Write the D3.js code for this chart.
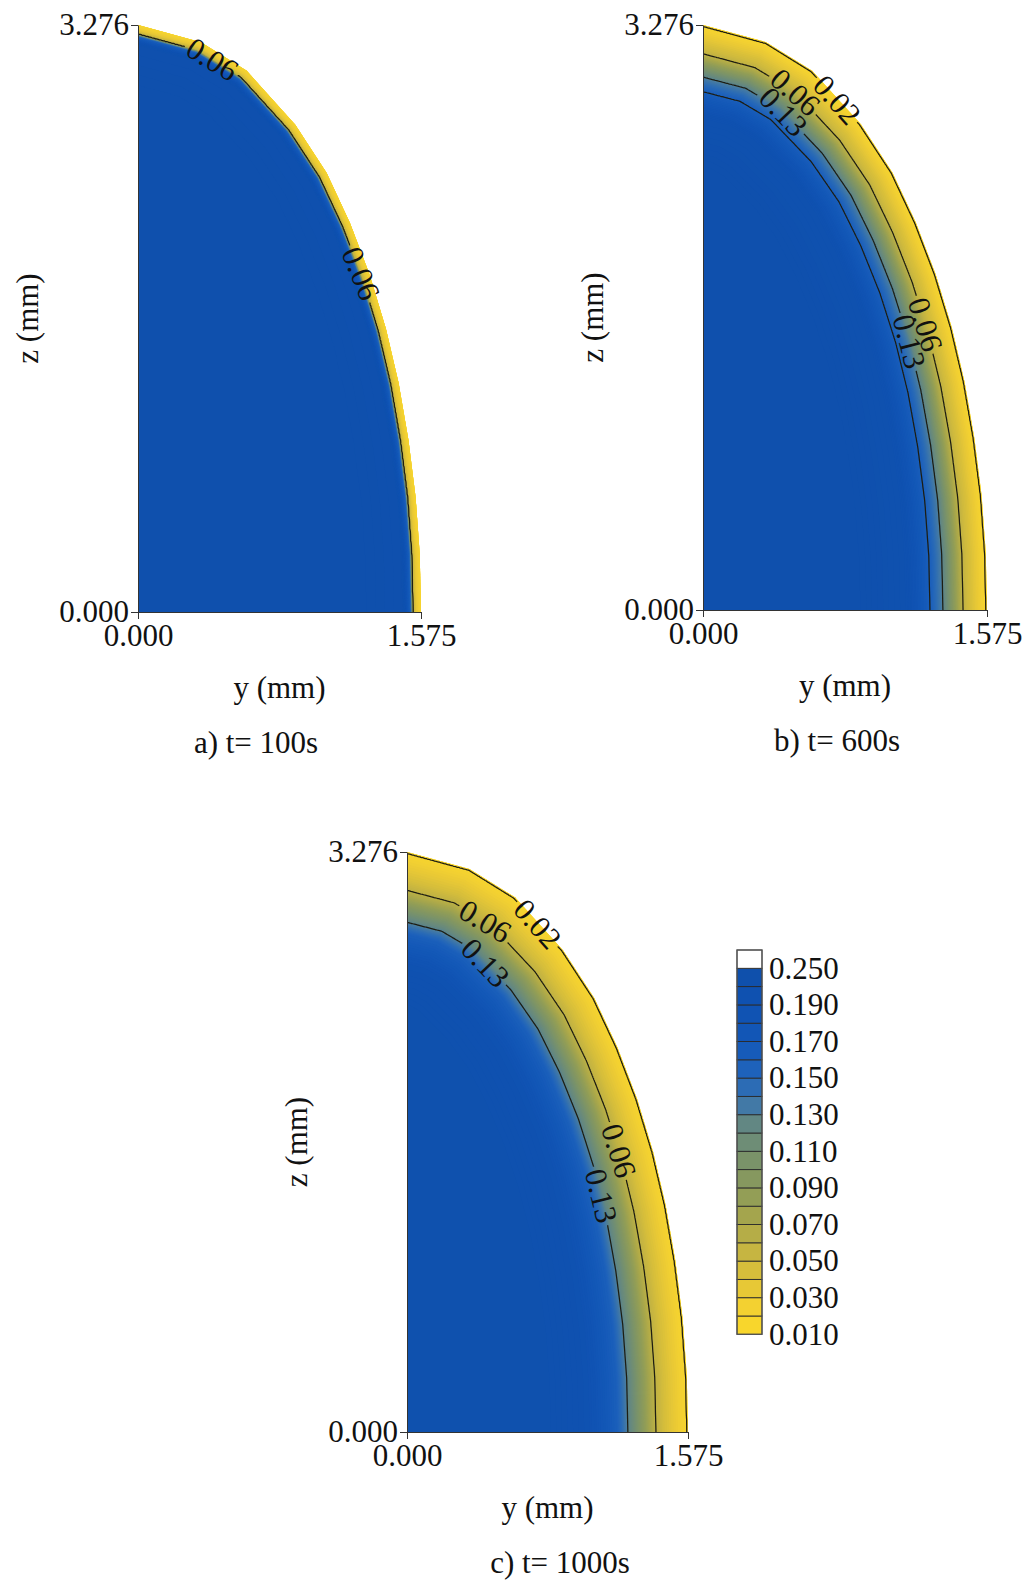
<!DOCTYPE html>
<html>
<head>
<meta charset="utf-8">
<script src="https://cdn.jsdelivr.net/npm/d3@7"></script>
<style>
  html, body { margin: 0; padding: 0; background: #fff; }
  svg text { font-family: "Liberation Serif", "Times New Roman", Times, serif; fill: #111; }
</style>
</head>
<body>
<svg id="fig" width="1026" height="1582"></svg>
<script>
// ---------------------------------------------------------------
// Quarter cross-section of the specimen (mm): y across, z along
// ---------------------------------------------------------------
const Y_MAX = 1.575, Z_MAX = 3.276;
const boundaryY = [0.000, 0.350, 0.605, 0.875, 1.050, 1.180, 1.290, 1.380, 1.450, 1.505, 1.545, 1.568, 1.575];
const boundaryZ = [3.276, 3.180, 3.020, 2.720, 2.450, 2.170, 1.880, 1.580, 1.280, 0.960, 0.640, 0.320, 0.000];

// Panels and drying times (s)
const panelIds = ["a", "b", "c"];
const times = [100, 600, 1000];

// Moisture content against depth below the surface (mm) for each time
const depthA   = [0.000, 0.025, 0.045, 0.052, 0.060, 0.100, 0.300];
const contentA = [0.020, 0.035, 0.060, 0.120, 0.160, 0.210, 0.220];
const depthB   = [0.000, 0.006, 0.110, 0.133, 0.244, 0.316, 0.450, 0.700];
const contentB = [0.015, 0.020, 0.050, 0.060, 0.130, 0.160, 0.200, 0.220];
const depthC   = [0.000, 0.006, 0.130, 0.180, 0.337, 0.400, 0.550, 0.800];
const contentC = [0.015, 0.020, 0.045, 0.060, 0.130, 0.160, 0.190, 0.210];
// the dried layer is a little thicker toward the apex (z = Z_MAX)
const apexThickening = [0.10, 0.20, 0.20];

// Iso-lines drawn in each panel
const linesA = [0.06];
const linesB = [0.02, 0.06, 0.13, 0.16];
const linesC = [0.02, 0.06, 0.13];

// In-line contour labels: level and approximate place (y, z in mm)
const labelPanel = ["a", "a", "b", "b", "b", "b", "b", "c", "c", "c", "c", "c"];
const labelLevel = [0.06, 0.06, 0.02, 0.06, 0.13, 0.06, 0.13, 0.02, 0.06, 0.13, 0.06, 0.13];
const labelY     = [0.400, 1.245, 0.732, 0.483, 0.418, 1.222, 1.139, 0.717, 0.409, 0.409, 1.175, 1.063];
const labelZ     = [3.060, 1.890, 2.846, 2.874, 2.762, 1.596, 1.502, 2.855, 2.826, 2.620, 1.584, 1.329];

// Axis ticks
const yTicks = [0, 1.575];
const zTicks = [0, 3.276];

// Colour legend
const legendLevels = [0.01, 0.02, 0.03, 0.04, 0.05, 0.06, 0.07, 0.08, 0.09, 0.10,
                      0.11, 0.12, 0.13, 0.14, 0.15, 0.16, 0.17, 0.18, 0.19, 0.20, 0.25];
const legendTicks = [0.25, 0.19, 0.17, 0.15, 0.13, 0.11, 0.09, 0.07, 0.05, 0.03, 0.01];

// Colour map (moisture content -> colour)
const cmapValues = [0.015, 0.025, 0.035, 0.045, 0.055, 0.065, 0.075, 0.085, 0.095, 0.105,
                    0.115, 0.125, 0.135, 0.145, 0.155, 0.165, 0.175, 0.185, 0.195, 0.225];
const cmapColors = ["#f8d62c", "#f3d131", "#e7c836", "#d6be3b", "#c6b541", "#b5ad47", "#a4a54d",
                    "#939e56", "#86985f", "#7a9369", "#6e8d76", "#628783", "#4279a6", "#2c6cb5",
                    "#1e62bb", "#165bb9", "#1256b6", "#1053b3", "#0f51b0", "#0f50ac"];

// ---------------------------------------------------------------
const profiles = {
  a: { depth: depthA, content: contentA, apex: apexThickening[0], lines: linesA },
  b: { depth: depthB, content: contentB, apex: apexThickening[1], lines: linesB },
  c: { depth: depthC, content: contentC, apex: apexThickening[2], lines: linesC }
};

// page layout of each panel (plot frame in px, caption centre)
const layout = {
  a: { x0: 138, x1: 421, y0: 25,  y1: 612,  cap: 256 },
  b: { x0: 703, x1: 987, y0: 25,  y1: 610,  cap: 837 },
  c: { x0: 407, x1: 688, y0: 852, y1: 1432, cap: 560 }
};
const FONT = 31;
const LABEL_FONT = 31;

const colorOf = d3.scaleLinear().domain(cmapValues).range(cmapColors)
  .interpolate(d3.interpolateRgb).clamp(true);

const svg = d3.select("#fig");
const defs = svg.append("defs");

// ---- computational grid (mirrored across both symmetry axes) ----
const h = 1 / 200, pad = 0.05;
const gy0 = -pad, gz1 = Z_MAX + pad;
const nx = Math.ceil((Y_MAX + 2 * pad) / h);
const nz = Math.ceil((Z_MAX + 2 * pad) / h);

const outline = boundaryY.map((y, i) => [y, boundaryZ[i]]);
const region = outline.concat([[0, 0]]);

function segDist(px, pz, a, b) {
  const dx = b[0] - a[0], dz = b[1] - a[1];
  let t = ((px - a[0]) * dx + (pz - a[1]) * dz) / (dx * dx + dz * dz);
  t = Math.max(0, Math.min(1, t));
  const qx = a[0] + t * dx - px, qz = a[1] + t * dz - pz;
  return Math.sqrt(qx * qx + qz * qz);
}

// signed depth below the surface (positive inside) and |z| per cell
const depthGrid = new Float64Array(nx * nz);
const zGrid = new Float64Array(nx * nz);
for (let j = 0; j < nz; j++) {
  const zz = Math.abs(gz1 - (j + 0.5) * h);
  for (let i = 0; i < nx; i++) {
    const yy = Math.abs(gy0 + (i + 0.5) * h);
    let d = Infinity;
    for (let s = 0; s < outline.length - 1; s++) {
      d = Math.min(d, segDist(yy, zz, outline[s], outline[s + 1]));
    }
    const inside = d3.polygonContains(region, [yy, zz]);
    depthGrid[j * nx + i] = inside ? d : -d;
    zGrid[j * nx + i] = zz;
  }
}

// ---- draw one panel ----
function drawPanel(id, n) {
  const L = layout[id], P = profiles[id];
  const xs = d3.scaleLinear().domain([0, Y_MAX]).range([L.x0, L.x1]);
  const zs = d3.scaleLinear().domain([0, Z_MAX]).range([L.y1, L.y0]);
  const profile = d3.scaleLinear().domain(P.depth).range(P.content).clamp(true);

  const values = new Float64Array(nx * nz);
  for (let k = 0; k < values.length; k++) {
    const s = 1 + P.apex * Math.pow(zGrid[k] / Z_MAX, 3);
    values[k] = profile(depthGrid[k] / s);
  }

  const toScreen = (gx, gz) => [xs(gy0 + gx * h), zs(gz1 - gz * h)];
  const path = d3.geoPath(d3.geoTransform({
    point(x, y) { const p = toScreen(x, y); this.stream.point(p[0], p[1]); }
  }));

  // clip regions
  const outlinePath = d3.line().x(d => xs(d[0])).y(d => zs(d[1]))(region) + "Z";
  defs.append("clipPath").attr("id", "shape-" + id).append("path").attr("d", outlinePath);
  defs.append("clipPath").attr("id", "frame-" + id).append("rect")
    .attr("x", L.x0).attr("y", L.y0).attr("width", L.x1 - L.x0).attr("height", L.y1 - L.y0);

  const g = svg.append("g").attr("class", "panel-" + id);

  // filled field (smooth shading, stacked bands)
  const step = 0.0025;
  const fillThresholds = d3.range(0.0100, 0.2226, step);
  const fills = d3.contours().size([nx, nz]).thresholds(fillThresholds)(values);
  g.append("g").attr("clip-path", `url(#shape-${id})`)
    .selectAll("path").data(fills).join("path")
    .attr("d", path)
    .attr("fill", d => colorOf(d.value + step / 2));

  // iso-lines
  const lineGeoms = d3.contours().size([nx, nz]).thresholds(P.lines)(values);
  const mask = defs.append("mask").attr("id", "gap-" + id)
    .attr("maskUnits", "userSpaceOnUse")
    .attr("x", 0).attr("y", 0).attr("width", 1026).attr("height", 1582);
  mask.append("rect").attr("x", 0).attr("y", 0).attr("width", 1026).attr("height", 1582).attr("fill", "#fff");

  g.append("g").attr("clip-path", `url(#frame-${id})`)
    .append("g").attr("mask", `url(#gap-${id})`)
    .selectAll("path").data(lineGeoms).join("path")
    .attr("d", path)
    .attr("fill", "none")
    .attr("stroke", "#1d1d12")
    .attr("stroke-width", 1.25)
    .attr("stroke-linejoin", "round");

  // in-line labels, placed on the nearest point of their line
  const labelLayer = g.append("g");
  labelPanel.forEach((pid, k) => {
    if (pid !== id) return;
    const geom = lineGeoms.find(c => Math.abs(c.value - labelLevel[k]) < 1e-9);
    if (!geom) return;
    const tx = xs(labelY[k]), ty = zs(labelZ[k]);
    let best = null;
    geom.coordinates.forEach(poly => poly.forEach(ring => {
      const pts = ring.map(p => toScreen(p[0], p[1]));
      pts.forEach((p, i) => {
        if (p[0] < L.x0 || p[0] > L.x1 || p[1] < L.y0 || p[1] > L.y1) return;
        const dd = (p[0] - tx) ** 2 + (p[1] - ty) ** 2;
        if (!best || dd < best.dd) best = { dd, i, pts };
      });
    }));
    if (!best) return;
    const m = best.pts.length - 1;
    const pa = best.pts[(best.i - 5 + m) % m], pb = best.pts[(best.i + 5) % m];
    let ang = Math.atan2(pb[1] - pa[1], pb[0] - pa[0]) * 180 / Math.PI;
    if (ang > 90) ang -= 180;
    if (ang <= -90) ang += 180;
    const p = best.pts[best.i];
    const tr = `translate(${p[0]},${p[1]}) rotate(${ang})`;
    const t = labelLayer.append("text")
      .attr("transform", tr)
      .attr("text-anchor", "middle")
      .attr("dy", "0.33em")
      .attr("font-size", LABEL_FONT)
      .text(d3.format(".2f")(labelLevel[k]));
    const len = t.node().getComputedTextLength();
    mask.append("rect")
      .attr("transform", tr)
      .attr("x", -len / 2 - 3).attr("y", -11)
      .attr("width", len + 6).attr("height", 22)
      .attr("fill", "#000");
  });

  // axes
  const fmt = d3.format(".3f");
  const ax = g.append("g").attr("transform", `translate(0,${L.y1})`)
    .call(d3.axisBottom(xs).tickValues(yTicks).tickFormat(fmt)
      .tickSize(7).tickSizeOuter(0).tickPadding(5));
  const az = g.append("g").attr("transform", `translate(${L.x0},0)`)
    .call(d3.axisLeft(zs).tickValues(zTicks).tickFormat(fmt)
      .tickSize(7).tickSizeOuter(0).tickPadding(2));
  [ax, az].forEach(a => {
    a.attr("font-family", null).attr("font-size", null).attr("color", "#333");
    a.selectAll("text").attr("font-size", FONT).style("fill", "#111");
    a.selectAll("line, path").attr("stroke-width", 1);
  });

  // axis titles and caption
  g.append("text")
    .attr("x", (L.x0 + L.x1) / 2).attr("y", L.y1 + 86)
    .attr("text-anchor", "middle").attr("font-size", FONT)
    .text("y (mm)");
  g.append("text")
    .attr("transform", `translate(${L.x0 - 100},${(L.y0 + L.y1) / 2}) rotate(-90)`)
    .attr("text-anchor", "middle").attr("font-size", FONT)
    .text("z (mm)");
  g.append("text")
    .attr("x", L.cap).attr("y", L.y1 + 141)
    .attr("text-anchor", "middle").attr("font-size", FONT)
    .text(`${id}) t= ${times[n]}s`);
}

panelIds.forEach(drawPanel);

// ---- colour legend ----
const LG = { x: 737, w: 25, top: 950, row: 18.3 };
const nRows = legendLevels.length; // 20 coloured bands + white band above the top level
const legendY = d3.scaleLinear().domain([0, nRows]).range([LG.top + nRows * LG.row, LG.top]);
const bands = d3.pairs(legendLevels).map(([lo, hi], i) => ({ i, lo, hi, color: colorOf((lo + hi) / 2) }));
bands.push({ i: nRows - 1, lo: legendLevels[nRows - 1], hi: null, color: "#ffffff" });

const lg = svg.append("g").attr("class", "legend");
lg.selectAll("rect").data(bands).join("rect")
  .attr("x", LG.x).attr("width", LG.w)
  .attr("y", d => legendY(d.i + 1))
  .attr("height", d => legendY(d.i) - legendY(d.i + 1))
  .attr("fill", d => d.color)
  .attr("stroke", "#2a2a2a").attr("stroke-width", 0.9);
lg.append("rect")
  .attr("x", LG.x).attr("y", legendY(nRows)).attr("width", LG.w)
  .attr("height", legendY(0) - legendY(nRows))
  .attr("fill", "none").attr("stroke", "#555").attr("stroke-width", 1.2);
lg.selectAll("text").data(legendTicks).join("text")
  .attr("x", LG.x + LG.w + 7)
  .attr("y", v => legendY(legendLevels.findIndex(l => Math.abs(l - v) < 1e-9)))
  .attr("dy", "0.33em")
  .attr("font-size", FONT)
  .text(d3.format(".3f"));
</script>
</body>
</html>
